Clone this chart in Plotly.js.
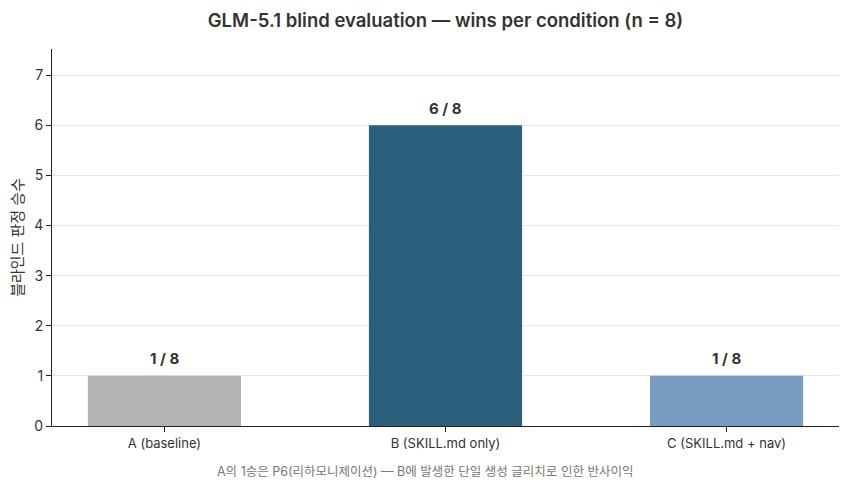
<!DOCTYPE html>
<html>
<head>
<meta charset="utf-8">
<script src="https://cdn.plot.ly/plotly-3.0.1.min.js"></script>
<style>html,body{margin:0;padding:0;background:#fff;}#chart{width:850px;height:491px;}</style>
</head>
<body>
<div id="chart"></div>
<script>
const categories = ["A (baseline)", "B (SKILL.md only)", "C (SKILL.md + nav)"];
const wins = [1, 6, 1];
const total = 8;
const colors = ["#b3b3b3", "#2c5f7c", "#7a9cc0"];
const labels = wins.map(w => w + " / " + total);

const fontFam = "Inter, 'Noto Sans CJK KR', sans-serif";

const trace = {
  type: "bar",
  x: categories,
  y: wins,
  marker: {color: colors},
  width: 0.545,
  hoverinfo: "skip"
};

const barLabels = categories.map((c, i) => ({
  x: c, y: wins[i], xref: "x", yref: "y",
  text: labels[i], showarrow: false,
  yanchor: "middle", yshift: 17,
  font: {family: fontFam, size: 15, color: "#333333", weight: 700}
}));

const layout = {
  width: 850, height: 491,
  margin: {l: 52, r: 11, t: 49, b: 65},
  paper_bgcolor: "#ffffff",
  plot_bgcolor: "#ffffff",
  font: {family: fontFam, color: "#333333", size: 13},
  title: {text: "GLM-5.1 blind evaluation — wins per condition (n = 8)", xref: "paper", x: 0.5, xanchor: "center", y: 0.959, yanchor: "middle", font: {size: 18.5, color: "#333333", family: fontFam, weight: 600}},
  xaxis: {
    range: [-0.4, 2.4],
    showline: true, linecolor: "#222222", linewidth: 1,
    ticks: "outside", ticklen: 5, tickcolor: "#222222",
    showgrid: false,
    tickfont: {size: 13, color: "#333333"}
  },
  yaxis: {
    range: [0, 7.52],
    dtick: 1,
    showline: true, linecolor: "#222222", linewidth: 1,
    ticks: "outside", ticklen: 5, tickcolor: "#222222",
    showgrid: true, gridcolor: "#e6e6e6", gridwidth: 1,
    zeroline: false,
    tickfont: {size: 14, color: "#333333"}
  },
  annotations: barLabels.concat([
    {
      text: "블라인드 판정 승수",
      xref: "paper", yref: "paper", x: -0.044, y: 0.5, xanchor: "center", yanchor: "middle",
      textangle: -90, showarrow: false, font: {size: 15, color: "#333333"}
    },
    {
      text: "A의 1승은 P6(리하모니제이션) — B에 발생한 단일 생성 글리치로 인한 반사이익",
      xref: "paper", yref: "paper", x: 0.474, y: -0.122, xanchor: "center", yanchor: "middle",
      showarrow: false, font: {size: 12.5, color: "#777777"}
    }
  ]),
  showlegend: false
};

Plotly.newPlot("chart", [trace], layout, {displayModeBar: false, staticPlot: true});
</script>
</body>
</html>
